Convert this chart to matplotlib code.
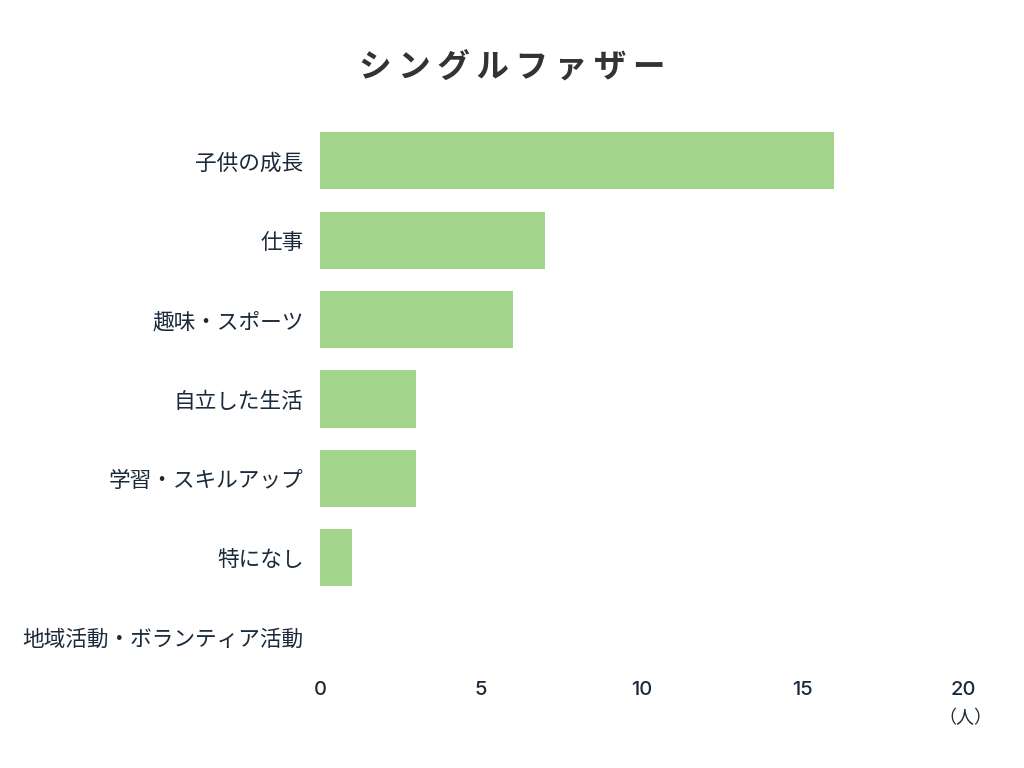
import matplotlib
matplotlib.use("Agg")
import matplotlib.pyplot as plt

# data
categories = ["子供の成長", "仕事", "趣味・スポーツ", "自立した生活",
              "学習・スキルアップ", "特になし", "地域活動・ボランティア活動"]
counts = [16, 7, 6, 3, 3, 1, 0]
xticks = [0, 5, 10, 15, 20]
title = "シングルファザー"
unit = "（人）"

bar_color = "#a3d58c"
label_color = "#1b2a3a"

plt.rcParams["font.family"] = ["Noto Sans CJK JP", "DejaVu Sans"]

fig = plt.figure(figsize=(10.24, 7.68), dpi=100)
ax = fig.add_axes([320 / 1024, 1 - 677 / 768, 643 / 1024, 556 / 768])

ypos = list(range(len(categories)))
ax.barh(ypos, counts, height=0.72, color=bar_color)
ax.set_ylim(len(categories) - 0.5, -0.5)
ax.set_xlim(0, 20)

ax.set_yticks(ypos)
ax.set_yticklabels(categories, fontsize=15.6, color=label_color)
ax.set_xticks(xticks)
ax.set_xticklabels([str(t) for t in xticks], fontsize=14.5, color=label_color,
                   family=["Inter", "DejaVu Sans"], fontweight="medium")
ax.tick_params(axis="y", length=0, pad=12)
ax.tick_params(axis="x", length=0, pad=3)
for s in ax.spines.values():
    s.set_visible(False)

fig.text(512 / 1024, 1 - 68 / 768, "\u2009".join(title), ha="center", va="center",
         fontsize=23.5, fontweight="bold", color="#333333")
fig.text(965 / 1024, 1 - 718 / 768, unit, ha="center", va="center",
         fontsize=13, color=label_color)

fig.savefig("out.png", dpi=100)
